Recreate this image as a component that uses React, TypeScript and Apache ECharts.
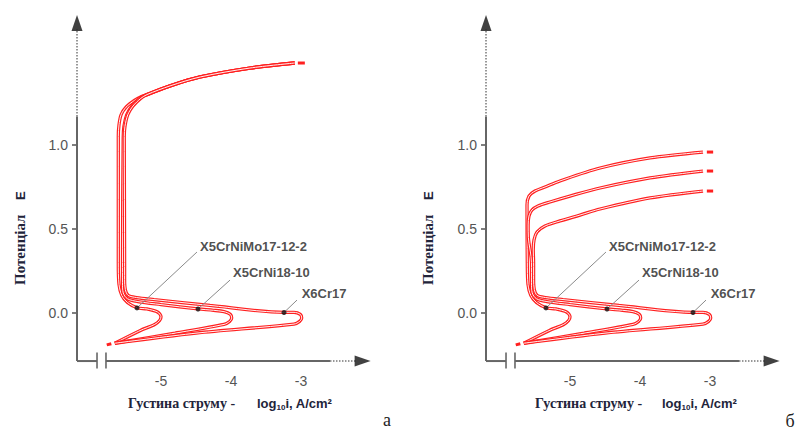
import React, { useEffect, useRef } from "react";
import * as echarts from "echarts";

// ---- tick values and names ----
const xTicks = [-5, -4, -3];
const yTicks = [0, 0.5, 1.0];
const steels = ["X5CrNiMo17-12-2", "X5CrNi18-10", "X6Cr17"];

// ---- shared lower (active / passivation) branches: [log10 i, E] ----
const lowerMo = [
  [-5.66, -0.18], [-5.3, -0.105], [-5.09, -0.068], [-5.02, -0.045], [-5.0, -0.022],
  [-5.05, 0.006], [-5.2, 0.024], [-5.34, 0.031], [-5.48, 0.063], [-5.56, 0.105],
  [-5.6, 0.17], [-5.61, 0.3],
];
const lowerNi = [
  [-5.66, -0.18], [-4.8, -0.12], [-4.1, -0.068], [-4.02, -0.05], [-3.99, -0.03],
  [-4.01, -0.008], [-4.1, 0.008], [-4.25, 0.016], [-4.47, 0.024], [-5.0, 0.05],
  [-5.33, 0.068], [-5.48, 0.085], [-5.54, 0.12], [-5.55, 0.18], [-5.55, 0.3],
];
const lowerCr = [
  [-5.66, -0.18], [-4.5, -0.12], [-3.1, -0.066], [-3.02, -0.05], [-2.99, -0.03],
  [-3.01, -0.008], [-3.1, 0.004], [-3.24, 0.004], [-4.3, 0.045], [-5.1, 0.08],
  [-5.35, 0.092], [-5.47, 0.105], [-5.51, 0.14], [-5.52, 0.2], [-5.52, 0.3],
];

// ---- panel a: upper (transpassive) branches ----
const upperAMo = [[-5.61, 1.05], [-5.6, 1.12], [-5.57, 1.18], [-5.5, 1.225], [-5.38, 1.265], [-5.27, 1.29]];
const upperANi = [[-5.54, 1.04], [-5.53, 1.11], [-5.49, 1.18], [-5.41, 1.235], [-5.3, 1.28]];
const upperACr = [[-5.525, 1.05], [-5.515, 1.11], [-5.475, 1.18], [-5.4, 1.232], [-5.29, 1.277]];
const tailA = [[-5.2, 1.3], [-4.87, 1.352], [-4.44, 1.405], [-3.73, 1.458], [-3.09, 1.488]];

// ---- panel б: upper branches ----
const upperBMo = [[-5.614, 0.643], [-5.586, 0.696], [-5.5, 0.726], [-5.357, 0.75], [-5.143, 0.786], [-4.571, 0.863], [-3.857, 0.923], [-3.1, 0.958]];
const upperBNi = [[-5.595, 0.45], [-5.598, 0.524], [-5.586, 0.577], [-5.543, 0.613], [-5.457, 0.637], [-5.286, 0.661], [-5.0, 0.696], [-4.571, 0.744], [-3.857, 0.804], [-3.1, 0.845]];
const upperBCr = [[-5.525, 0.375], [-5.514, 0.435], [-5.471, 0.482], [-5.357, 0.518], [-5.143, 0.548], [-4.857, 0.583], [-4.571, 0.619], [-3.857, 0.685], [-3.1, 0.726]];

// ---- markers, labels ----
const dots = [[-5.343, 0.03], [-4.471, 0.024], [-3.243, 0.003]];
const leaderEnds = [[-4.486, 0.363], [-4.014, 0.196], [-3.057, 0.077]];
const labelAnchors = [[-4.443, 0.393], [-3.971, 0.244], [-2.99, 0.119]];
const startDash = [[-5.775, -0.19], [-5.71, -0.183]];
const endDashA = [[[-3.045, 1.488], [-2.945, 1.488]]];
const endDashB = [
  [[-3.045, 0.958], [-2.955, 0.958]],
  [[-3.045, 0.845], [-2.955, 0.845]],
  [[-3.045, 0.726], [-2.955, 0.726]],
];

// axis extents (data units)
const xMin = -6.2, xMax = -1.95, yMin = -0.286, yMax = 1.78;

const RED = "#ff2020";
const SANS = '"Liberation Sans", Arial, sans-serif';
const SERIF = '"Liberation Serif", "Times New Roman", serif';
const TITLE = "#22243a";

function line(g: number, data: number[][], color: string, width: number, extra: any = {}) {
  return {
    type: "line", xAxisIndex: g, yAxisIndex: g, data, symbol: "none", showSymbol: false,
    clip: false, silent: true, animation: false,
    lineStyle: { color, width, ...(extra.lineStyle || {}) },
    smooth: extra.smooth || false, z: extra.z || 2,
  };
}

function panelSeries(g: number, curves: number[][][], endDashes: number[][][]) {
  const s: any[] = [];
  // axes
  s.push(line(g, [[xMin, yMin], [xMin, 1.17]], "#666", 2));
  s.push(line(g, [[xMin, 1.17], [xMin, 1.69]], "#777", 1.5, { lineStyle: { type: [1.5, 1.5] } }));
  s.push(line(g, [[xMin, yMin], [-5.914, yMin]], "#666", 2));
  s.push(line(g, [[-5.914, -0.235], [-5.914, -0.33]], "#666", 1.6));
  s.push(line(g, [[-5.786, -0.235], [-5.786, -0.33]], "#666", 1.6));
  s.push(line(g, [[-5.786, yMin], [-2.586, yMin]], "#666", 2));
  s.push(line(g, [[-2.586, yMin], [-2.22, yMin]], "#777", 1.5, { lineStyle: { type: [1.5, 1.5] } }));
  s.push({
    type: "scatter", xAxisIndex: g, yAxisIndex: g, silent: true, clip: false,
    data: [{ value: [xMin, 1.726], symbolRotate: 0 }, { value: [-2.12, yMin], symbolRotate: -90 }],
    symbol: "triangle", symbolSize: [11, 16], itemStyle: { color: "#111" }, z: 3,
  });
  // curves (red tube with light core)
  curves.forEach((c) => {
    s.push(line(g, c, RED, 3.3, { smooth: 0.3, z: 4 }));
    s.push(line(g, c, "#fff4f4", 1.0, { smooth: 0.3, z: 4 }));
  });
  s.push(line(g, startDash, RED, 3, { z: 4 }));
  endDashes.forEach((d) => s.push(line(g, d, RED, 3, { z: 4 })));
  // leaders
  dots.forEach((d, i) => s.push(line(g, [d, leaderEnds[i]], "#8a8a8a", 1, { z: 5 })));
  s.push({
    type: "scatter", xAxisIndex: g, yAxisIndex: g, silent: true, clip: false,
    data: dots, symbol: "circle", symbolSize: 5, itemStyle: { color: "#111" }, z: 6,
  });
  s.push({
    type: "scatter", xAxisIndex: g, yAxisIndex: g, silent: true, clip: false,
    data: labelAnchors, symbolSize: 0, z: 6,
    label: {
      show: true, position: "right", distance: 0,
      formatter: (p: any) => steels[p.dataIndex],
      fontFamily: SANS, fontWeight: "bold", fontSize: 13, color: "#222",
    },
  });
  return s;
}

export default function App() {
  const ref = useRef<HTMLDivElement>(null);
  useEffect(() => {
    if (!ref.current) return;
    const chart = echarts.init(ref.current, null, { renderer: "svg" });
    const kx = 70, ky = 168, y0 = 313;
    const mkGrid = (x0: number) => ({
      left: x0 + (xMin + 5) * kx,
      top: y0 - yMax * ky,
      width: (xMax - xMin) * kx,
      height: (yMax - yMin) * ky,
    });
    const xAx = (g: number) => ({
      type: "value", gridIndex: g, min: xMin, max: xMax,
      axisLine: { show: false }, splitLine: { show: false },
      axisTick: { show: false },
      axisLabel: {
        customValues: xTicks, margin: 13, color: "#555", fontSize: 14, fontFamily: SANS,
        formatter: (v: number) => String(v),
      },
    });
    const yAx = (g: number) => ({
      type: "value", gridIndex: g, min: yMin, max: yMax,
      axisLine: { show: false }, splitLine: { show: false },
      axisTick: { show: true, customValues: yTicks, length: 5, lineStyle: { color: "#555", width: 1.5 } },
      axisLabel: {
        customValues: yTicks, margin: 9, color: "#555", fontSize: 14, fontFamily: SANS,
        formatter: (v: number) => v.toFixed(1),
      },
    });
    const curvesA = [
      [...lowerMo, ...upperAMo, ...tailA],
      [...lowerNi, ...upperANi, ...tailA],
      [...lowerCr, ...upperACr, ...tailA],
    ];
    const curvesB = [
      [...lowerMo, ...upperBMo],
      [...lowerNi, ...upperBNi],
      [...lowerCr, ...upperBCr],
    ];
    const texts = (xs: number, xl: number, xy: number) => [
      {
        type: "text", x: xs, y: 403,
        style: { text: "Густина струму -", font: `bold 14px ${SERIF}`, fill: TITLE, verticalAlign: "middle", align: "left" },
      },
      {
        type: "text", x: xl, y: 403,
        style: {
          text: "{b|log}{s|10}{b|i, A/cm²}", verticalAlign: "middle", align: "left",
          rich: {
            b: { fontFamily: SANS, fontWeight: "bold", fontSize: 13, fill: TITLE, lineHeight: 16 },
            s: { fontFamily: SANS, fontWeight: "bold", fontSize: 8, fill: TITLE, verticalAlign: "bottom", lineHeight: 12 },
          },
        },
      },
      {
        type: "text", x: xy, y: 285, rotation: Math.PI / 2,
        style: { text: "Потенціал", font: `bold 15px ${SERIF}`, fill: TITLE, verticalAlign: "middle", align: "left" },
      },
      {
        type: "text", x: xy, y: 200, rotation: Math.PI / 2,
        style: { text: "E", font: `bold 13px ${SANS}`, fill: TITLE, verticalAlign: "middle", align: "left" },
      },
    ];
    chart.setOption({
      animation: false,
      grid: [mkGrid(161), mkGrid(570)],
      xAxis: [xAx(0), xAx(1)],
      yAxis: [yAx(0), yAx(1)],
      series: [...panelSeries(0, curvesA, endDashA), ...panelSeries(1, curvesB, endDashB)],
      graphic: [
        ...texts(128, 257, 20),
        ...texts(535, 662, 428),
        { type: "text", x: 387, y: 420, style: { text: "а", font: `18px ${SERIF}`, fill: "#222", align: "center", verticalAlign: "middle" } },
        { type: "text", x: 790, y: 421, style: { text: "б", font: `18px ${SERIF}`, fill: "#222", align: "center", verticalAlign: "middle" } },
      ],
    });
    return () => chart.dispose();
  }, []);
  return (
    <div
      ref={ref}
      style={{ position: "fixed", left: 0, top: 0, width: 798, height: 430, background: "#fff" }}
    />
  );
}
